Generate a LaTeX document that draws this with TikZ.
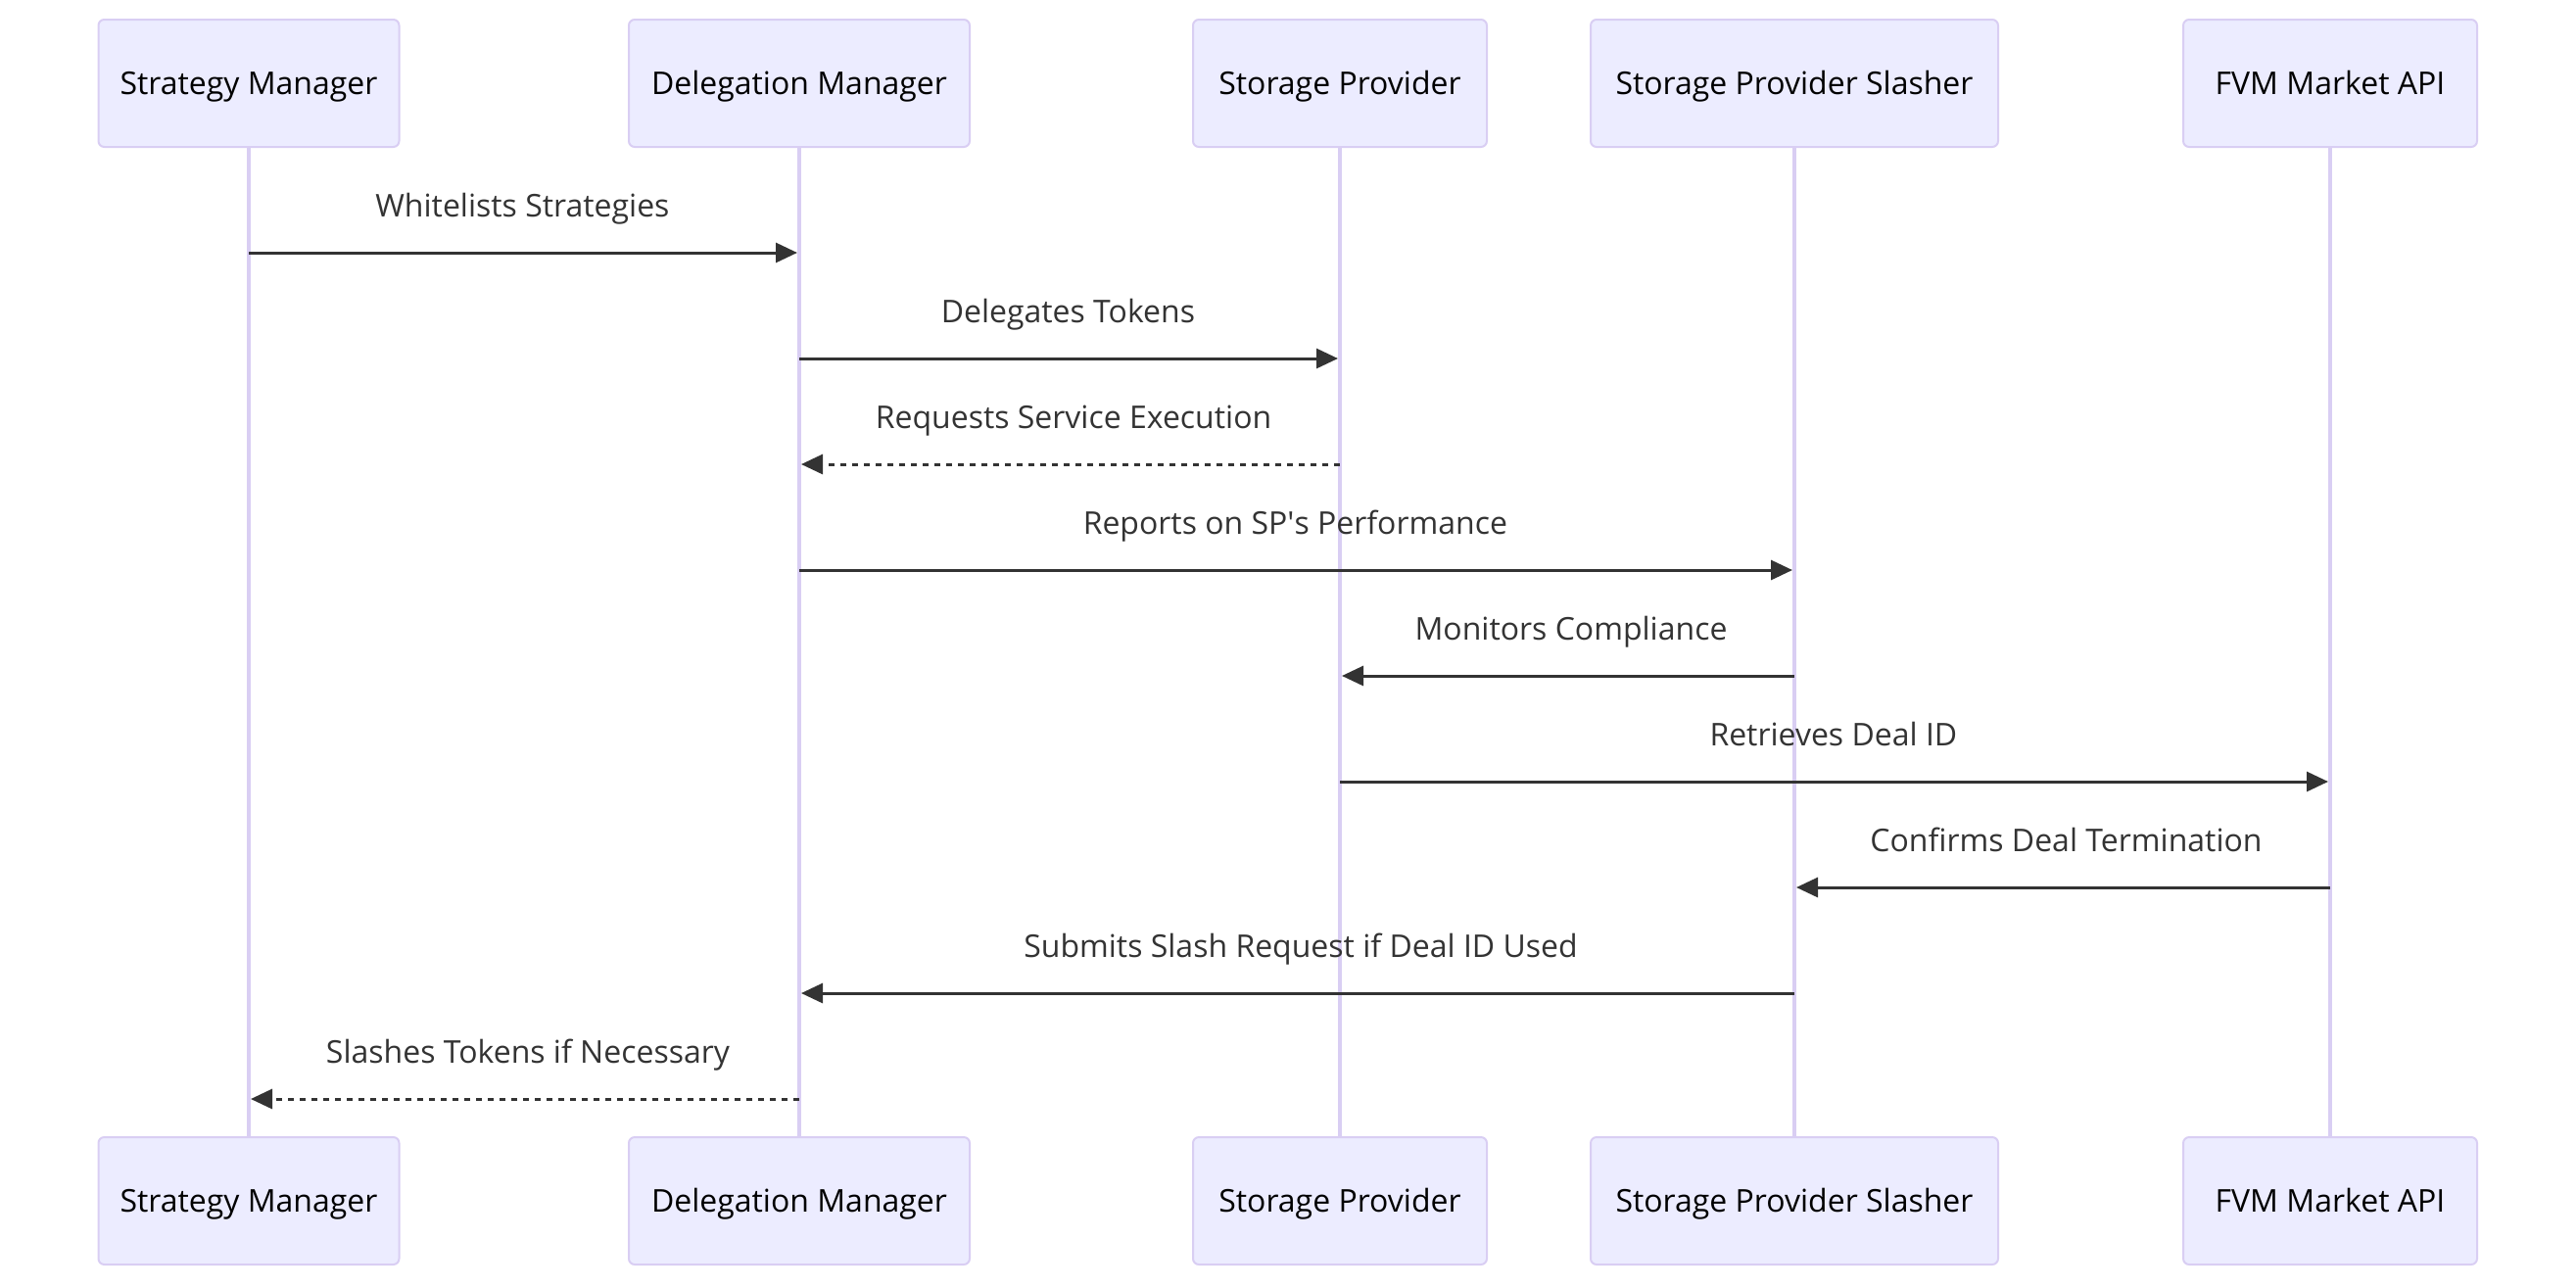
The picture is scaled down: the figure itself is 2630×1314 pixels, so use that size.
\documentclass[tikz,border=0pt]{standalone}
\usepackage{fontspec}
\setmainfont{Open Sans}
\usetikzlibrary{arrows.meta}
\definecolor{actfill}{HTML}{ECECFF}
\definecolor{actline}{HTML}{D9CEF3}
\definecolor{msgc}{HTML}{333333}
\begin{document}
\begin{tikzpicture}[x=0.5pt,y=-0.5pt,
  actor/.style={draw=actline, fill=actfill, line width=1pt, rounded corners=3pt,
    minimum height=65pt, inner sep=0pt, text=black, text height=11.4pt, text depth=0pt,
    font=\fontsize{16}{19}\selectfont},
  lifeline/.style={draw=actline, line width=1.7pt},
  msg/.style={draw=msgc, line width=1.5pt, shorten >=1pt,
    -{Triangle[length=11pt,width=10pt]}},
  dmsg/.style={msg, dash pattern=on 3pt off 3pt},
  lbl/.style={midway, anchor=base, yshift=18.5pt, text=msgc, inner sep=0pt,
    font=\fontsize{16}{19}\selectfont},
  rl/.style={lbl, xshift=-0.8pt},
  ll/.style={lbl, xshift=2pt}
]
\useasboundingbox (0,0) rectangle (2630,1314);
% top actors
\node[actor, minimum width=153.5pt] (smT)  at (254,85)  {Strategy Manager};
\node[actor, minimum width=174pt]   (dmT)  at (816,85)  {Delegation Manager};
\node[actor, minimum width=150pt]   (spT)  at (1368,85) {Storage Provider};
\node[actor, minimum width=208pt]   (spsT) at (1832,85) {Storage Provider Slasher};
\node[actor, minimum width=150pt]   (fvmT) at (2379,85) {FVM Market API};
% bottom actors
\node[actor, minimum width=153.5pt] (smB)  at (254,1226)  {Strategy Manager};
\node[actor, minimum width=174pt]   (dmB)  at (816,1226)  {Delegation Manager};
\node[actor, minimum width=150pt]   (spB)  at (1368,1226) {Storage Provider};
\node[actor, minimum width=208pt]   (spsB) at (1832,1226) {Storage Provider Slasher};
\node[actor, minimum width=150pt]   (fvmB) at (2379,1226) {FVM Market API};
% lifelines
\draw[lifeline] (smT.south) -- (smB.north);
\draw[lifeline] (dmT.south) -- (dmB.north);
\draw[lifeline] (spT.south) -- (spB.north);
\draw[lifeline] (spsT.south) -- (spsB.north);
\draw[lifeline] (fvmT.south) -- (fvmB.north);
% message rows
\coordinate (r1) at (0,258);
\coordinate (r2) at (0,366);
\coordinate (r3) at (0,474);
\coordinate (r4) at (0,582);
\coordinate (r5) at (0,690);
\coordinate (r6) at (0,798);
\coordinate (r7) at (0,906);
\coordinate (r8) at (0,1014);
\coordinate (r9) at (0,1122);
% messages
\draw[msg]  (smT |- r1) -- node[rl] {Whitelists Strategies} (dmT |- r1);
\draw[msg]  (dmT |- r2) -- node[rl] {Delegates Tokens} (spT |- r2);
\draw[dmsg] (spT |- r3) -- node[ll] {Requests Service Execution} (dmT |- r3);
\draw[msg]  (dmT |- r4) -- node[rl] {Reports on SP\textquotesingle s Performance} (spsT |- r4);
\draw[msg]  (spsT |- r5) -- node[ll] {Monitors Compliance} (spT |- r5);
\draw[msg]  (spT |- r6) -- node[rl] {Retrieves Deal ID} (fvmT |- r6);
\draw[msg]  (fvmT |- r7) -- node[ll] {Confirms Deal Termination} (spsT |- r7);
\draw[msg]  (spsT |- r8) -- node[ll] {Submits Slash Request if Deal ID Used} (dmT |- r8);
\draw[dmsg] (dmT |- r9) -- node[ll] {Slashes Tokens if Necessary} (smT |- r9);
\end{tikzpicture}
\end{document}
